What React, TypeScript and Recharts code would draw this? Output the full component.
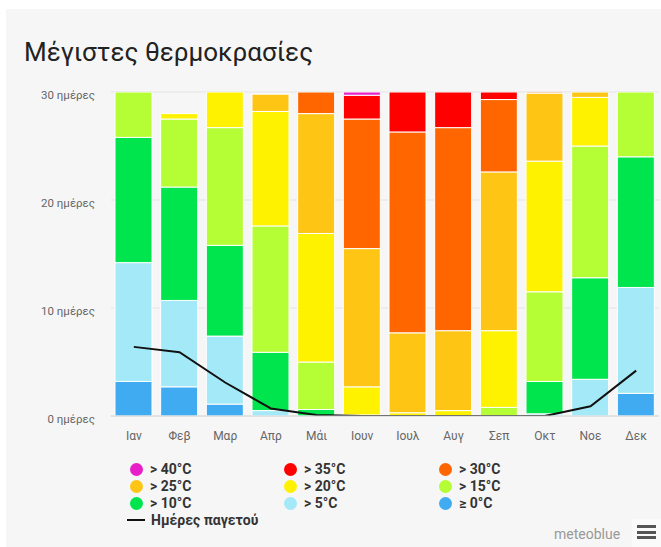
import { ComposedChart, Bar, Line, XAxis, YAxis, CartesianGrid } from "recharts";

const months = ["Ιαν", "Φεβ", "Μαρ", "Απρ", "Μάι", "Ιουν", "Ιουλ", "Αυγ", "Σεπ", "Οκτ", "Νοε", "Δεκ"];

// days per month with max temperature in each band
const above0 = [3.2, 2.7, 1.1, 0, 0, 0, 0, 0, 0, 0, 0, 2.1];
const above5 = [11.0, 8.0, 6.3, 0.5, 0, 0, 0, 0, 0, 0.2, 3.4, 9.8];
const above10 = [11.6, 10.5, 8.4, 5.4, 0.6, 0, 0, 0, 0, 3.0, 9.4, 12.1];
const above15 = [4.2, 6.3, 10.9, 11.7, 4.4, 0.1, 0, 0, 0.8, 8.3, 12.2, 6.1];
const above20 = [0, 0.5, 3.4, 10.6, 11.9, 2.6, 0.3, 0.5, 7.1, 12.1, 4.5, 0];
const above25 = [0, 0, 0, 1.6, 11.1, 12.8, 7.4, 7.4, 14.7, 6.3, 0.6, 0];
const above30 = [0, 0, 0, 0, 2.0, 12.0, 18.6, 18.8, 6.7, 0.2, 0, 0];
const above35 = [0, 0, 0, 0, 0, 2.2, 3.7, 3.4, 0.8, 0, 0, 0];
const above40 = [0, 0, 0, 0, 0, 0.3, 0, 0, 0, 0, 0, 0];
const frostDays = [6.4, 5.9, 3.1, 0.7, 0.1, 0, 0, 0, 0, 0, 0.9, 4.2];

const yTicks = [0, 10, 20, 30];

const series = [
  { key: "a0", label: "≥ 0°C", color: "#41abf2", values: above0 },
  { key: "a5", label: "> 5°C", color: "#a3e9f7", values: above5 },
  { key: "a10", label: "> 10°C", color: "#00e54e", values: above10 },
  { key: "a15", label: "> 15°C", color: "#b5fd34", values: above15 },
  { key: "a20", label: "> 20°C", color: "#fff200", values: above20 },
  { key: "a25", label: "> 25°C", color: "#fec514", values: above25 },
  { key: "a30", label: "> 30°C", color: "#ff6600", values: above30 },
  { key: "a35", label: "> 35°C", color: "#ff0000", values: above35 },
  { key: "a40", label: "> 40°C", color: "#e81ec8", values: above40 },
];

const data = months.map((m, i) => {
  const row: Record<string, number | string> = { month: m, frost: frostDays[i] };
  series.forEach((s) => (row[s.key] = s.values[i]));
  return row;
});

// legend order as in the original (3 columns)
const legendOrder = ["a40", "a35", "a30", "a25", "a20", "a15", "a10", "a5", "a0"];
const legendCols = [137, 291, 446];
const legendRows = [469, 486, 503];

export default function App() {
  const font = "Roboto, 'Liberation Sans', sans-serif";
  return (
    <div style={{ position: "absolute", left: 0, top: 0, width: 661, height: 547, background: "#fff", overflow: "hidden", fontFamily: font }}>
      <div style={{ position: "absolute", left: 6, top: 9, right: 0, bottom: 0, background: "#f6f6f6" }} />
      <div style={{ position: "absolute", left: 24, top: 37, fontSize: 26, lineHeight: "30px", color: "#222", whiteSpace: "nowrap" }}>
        Μέγιστες θερμοκρασίες
      </div>
      <div style={{ position: "absolute", left: 0, top: 0 }}>
        <ComposedChart width={661} height={446} data={data} margin={{ top: 92, right: 2, left: 0, bottom: 0 }} barSize={37}>
          <CartesianGrid vertical={false} stroke="#e4e4e4" />
          <XAxis
            dataKey="month"
            height={30}
            tickLine={false}
            axisLine={{ stroke: "#d6d6d6" }}
            tickMargin={9}
            tick={{ fill: "#666", fontSize: 12, fontFamily: font }}
          />
          <YAxis
            width={111}
            domain={[0, 30]}
            ticks={yTicks}
            allowDataOverflow
            axisLine={false}
            tickLine={false}
            tickMargin={10}
            tickFormatter={(v) => `${v} ημέρες`}
            tick={{ fill: "#666", fontSize: 11.5, fontFamily: font, dy: 3 }}
          />
          {series.map((s) => (
            <Bar key={s.key} dataKey={s.key} stackId="t" fill={s.color} stroke="#fff" strokeWidth={1} isAnimationActive={false} />
          ))}
          <Line type="linear" dataKey="frost" stroke="#111" strokeWidth={2} dot={false} activeDot={false} isAnimationActive={false} />
        </ComposedChart>
      </div>
      {legendOrder.map((k, i) => {
        const s = series.find((x) => x.key === k)!;
        const cx = legendCols[i % 3];
        const cy = legendRows[Math.floor(i / 3)];
        return (
          <div key={k} style={{ position: "absolute", left: cx - 7, top: cy - 8, height: 16, display: "flex", alignItems: "center", whiteSpace: "nowrap" }}>
            <span style={{ width: 13, height: 13, borderRadius: 7, background: s.color, display: "inline-block", marginRight: 7 }} />
            <span style={{ fontSize: 14, fontWeight: 700, color: "#333" }}>{s.label}</span>
          </div>
        );
      })}
      <div style={{ position: "absolute", left: 127, top: 512, height: 16, display: "flex", alignItems: "center", whiteSpace: "nowrap" }}>
        <span style={{ width: 18, height: 2, background: "#111", display: "inline-block", marginRight: 6 }} />
        <span style={{ fontSize: 14, fontWeight: 700, color: "#333" }}>Ημέρες παγετού</span>
      </div>
      <div style={{ position: "absolute", left: 554, top: 526, fontSize: 14, color: "#999", whiteSpace: "nowrap" }}>meteoblue</div>
      <div style={{ position: "absolute", left: 632, top: 519, width: 29, height: 28, background: "#fafafa" }}>
        {[0, 1, 2].map((j) => (
          <div key={j} style={{ position: "absolute", left: 5, top: 6 + j * 5.5, width: 19, height: 3, background: "#555" }} />
        ))}
      </div>
    </div>
  );
}
